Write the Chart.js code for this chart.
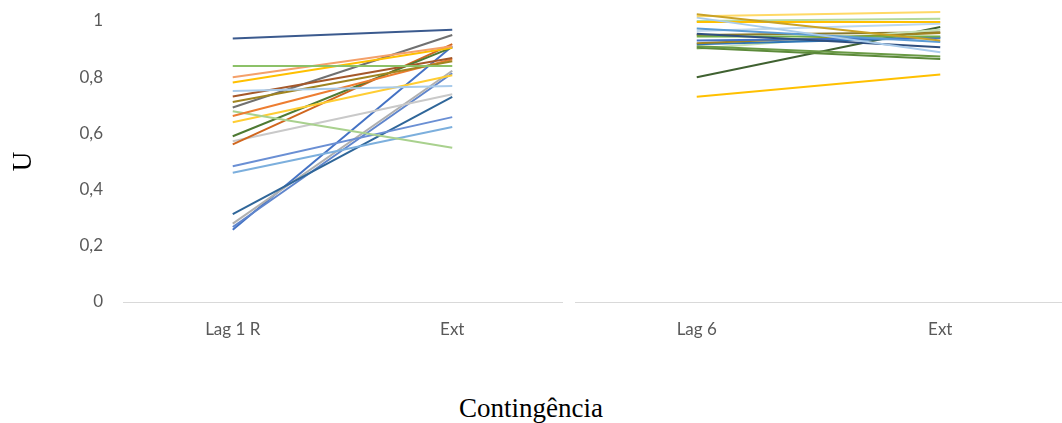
<!DOCTYPE html>
<html>
<head>
<meta charset="utf-8">
<script src="https://cdn.jsdelivr.net/npm/chart.js@4.4.1/dist/chart.umd.min.js"></script>
<style>
    html, body { margin: 0; padding: 0; background: #fff; }
    body { width: 1062px; height: 423px; position: relative; overflow: hidden; }
    .panel { position: absolute; top: 0; height: 345px; }
    #leftPanel { left: 0; width: 567px; }
    #rightPanel { left: 567px; width: 495px; }
    #xTitle {
        position: absolute; left: 0; top: 393px; width: 1062px;
        text-align: center; font: 27px "Liberation Serif", "DejaVu Serif", serif; color: #000;
        line-height: 30px;
    }
</style>
</head>
<body>
<div class="panel" id="leftPanel"><canvas id="leftChart"></canvas></div>
<div class="panel" id="rightPanel"><canvas id="rightChart"></canvas></div>
<div id="xTitle">Contingência</div>

<script>
// --- data ---
const leftCategories = ['Lag 1 R', 'Ext'];
const rightCategories = ['Lag 6', 'Ext'];
const yTickLabels = ['0', '0,2', '0,4', '0,6', '0,8', '1'];

const leftStart = [0.938, 0.840, 0.800, 0.781, 0.751, 0.731, 0.712, 0.692, 0.662, 0.679,
                   0.640, 0.590, 0.561, 0.572, 0.483, 0.460, 0.313, 0.279, 0.267, 0.257];
const leftEnd   = [0.969, 0.840, 0.910, 0.905, 0.769, 0.868, 0.857, 0.950, 0.864, 0.549,
                   0.807, 0.906, 0.918, 0.739, 0.658, 0.623, 0.730, 0.823, 0.814, 0.910];

const rightStart = [1.024, 1.017, 1.012, 0.996, 1.000, 0.973, 0.964, 0.955, 0.945, 0.931,
                    0.921, 0.917, 0.910, 0.905, 0.901, 0.950, 0.800, 0.730];
const rightEnd   = [0.931, 1.032, 0.889, 0.996, 1.008, 0.925, 0.990, 0.907, 0.945, 0.940,
                    0.957, 0.940, 0.874, 0.865, 0.969, 0.960, 0.979, 0.810];

const leftColors = ['#3B5A8E', '#8CC168', '#F4A06A', '#FFC000', '#A9CBEB', '#A5582A',
                    '#A08420', '#707070', '#ED7D31', '#A9D18E', '#FFCD33', '#4E7A33',
                    '#D0661E', '#C9C9C9', '#6A8FD4', '#7CAFDD', '#2F6699', '#B0B0B0',
                    '#5F85CC', '#4472C4'];
const rightColors = ['#C9A227', '#FFD966', '#A9CBEB', '#FFC000', '#B4D89A', '#5B9BD5',
                     '#BDD7EE', '#2F4F7F', '#70AD47', '#4472C4', '#A08420', '#2E75B6',
                     '#6A9A45', '#5C8A3A', '#C5E0B4', '#8C7A2A', '#3F6130', '#FFC000'];

const tickFont = { family: 'Lato, "Open Sans", sans-serif', size: 17 };
const tickColor = '#595959';

function buildDatasets(starts, ends, colors) {
    return starts.map((s, i) => ({
        data: [s, ends[i]],
        borderColor: colors[i],
        borderWidth: 2,
        pointRadius: 0,
        tension: 0,
        clip: false
    }));
}

function makeOptions(showY, padLeft, padRight) {
    return {
        responsive: true,
        maintainAspectRatio: false,
        animation: false,
        layout: { autoPadding: false, padding: { top: 21, left: padLeft, right: padRight, bottom: 0 } },
        plugins: { legend: { display: false }, tooltip: { enabled: false } },
        scales: {
            x: {
                offset: true,
                grid: { display: false, drawTicks: false },
                border: { display: true, color: '#D9D9D9', width: 1 },
                ticks: { color: tickColor, font: tickFont, padding: 17, maxRotation: 0 },
                afterFit: function(scale) { scale.height = 43; }
            },
            y: {
                display: showY,
                min: 0,
                max: 1,
                grid: { display: false, drawTicks: false },
                border: { display: false },
                ticks: {
                    stepSize: 0.2,
                    color: tickColor,
                    font: tickFont,
                    padding: 20,
                    callback: function(value, index) { return yTickLabels[index]; }
                },
                title: {
                    display: showY,
                    text: 'U',
                    color: '#000',
                    font: { family: '"Liberation Serif", serif', size: 27 },
                    padding: { top: 8, bottom: 0 }
                },
                afterFit: function(scale) {
                    if (!showY) return;
                    scale.width = 123;
                    scale.paddingTop = 0;
                    scale.paddingBottom = 0;
                }
            }
        }
    };
}

new Chart(document.getElementById('leftChart').getContext('2d'), {
    type: 'line',
    data: { labels: leftCategories, datasets: buildDatasets(leftStart, leftEnd, leftColors) },
    options: makeOptions(true, 0, 5)
});

new Chart(document.getElementById('rightChart').getContext('2d'), {
    type: 'line',
    data: { labels: rightCategories, datasets: buildDatasets(rightStart, rightEnd, rightColors) },
    options: makeOptions(false, 8, 0)
});
</script>
</body>
</html>
